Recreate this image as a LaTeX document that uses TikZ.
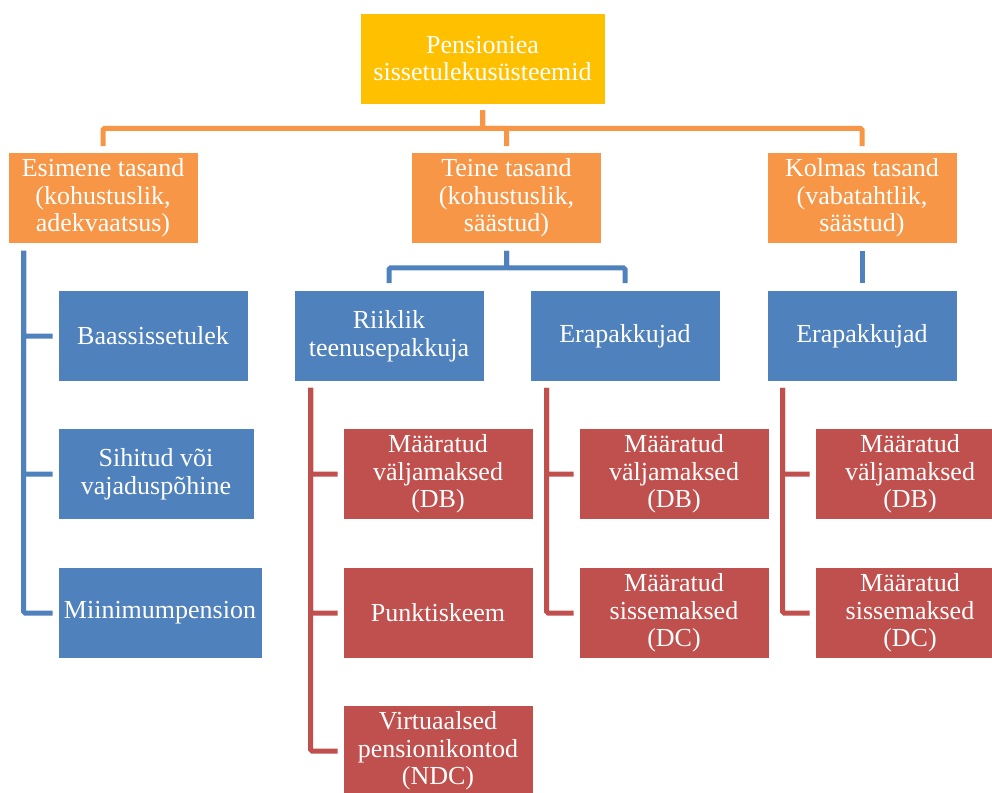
\documentclass[tikz,border=0pt]{standalone}
\usepackage{fontspec}
\setmainfont{Liberation Serif}
\definecolor{gold}{HTML}{FFC000}
\definecolor{orng}{HTML}{F79646}
\definecolor{blu}{HTML}{4F81BD}
\definecolor{rd}{HTML}{C0504D}
\begin{document}
\begin{tikzpicture}[x=1pt, y=-1pt,
  box/.style={draw=white, line width=0.6pt, text=white, align=center, inner sep=0pt,
    minimum width=190pt, minimum height=91pt, font=\fontsize{26}{27.5}\selectfont},
  topbox/.style={box, fill=gold, minimum width=245pt},
  tierbox/.style={box, fill=orng},
  bluebox/.style={box, fill=blu},
  redbox/.style={box, fill=rd},
  link/.style={line width=5pt, rounded corners=1.5pt},
  orlink/.style={link, draw=orng},
  bllink/.style={link, draw=blu},
  rdlink/.style={link, draw=rd}]
\path[use as bounding box] (0,0) rectangle (992,792);
\node[topbox] (pid0) at (482.5,58.5){Pensioniea\\sissetulekusüsteemid};
\node[tierbox] (pid1) at (103,198){Esimene tasand\\(kohustuslik,\\adekvaatsus)};
\node[tierbox] (pid2) at (506.5,198){Teine tasand\\(kohustuslik,\\säästud)};
\node[tierbox] (pid3) at (862,198){Kolmas tasand\\(vabatahtlik,\\säästud)};
\draw[orlink] ([yshift=-6pt]pid0.south) -- ++(0pt,-18pt) -| ([yshift=6pt]pid1.north);
\draw[orlink] ([yshift=-6pt]pid0.south) -- ++(0pt,-18pt) -| ([yshift=6pt]pid2.north);
\draw[orlink] ([yshift=-6pt]pid0.south) -- ++(0pt,-18pt) -| ([yshift=6pt]pid3.north);

\node[bluebox] (pid4) at (153,336){Baassissetulek};
\node[bluebox, minimum width=196pt] (pid5) at (156,474){Sihitud või\\vajaduspõhine};
\node[bluebox, minimum width=204pt] (pid6) at (160,613){Miinimumpension};
\draw[bllink] ([xshift=16pt,yshift=-7pt]pid1.south west) |- ([xshift=-5pt]pid4.west);
\draw[bllink] ([xshift=16pt,yshift=-7pt]pid1.south west) |- ([xshift=-5pt]pid5.west);
\draw[bllink] ([xshift=16pt,yshift=-7pt]pid1.south west) |- ([xshift=-5pt]pid6.west);

\node[bluebox] (pid7) at (389,336){Riiklik\\teenusepakkuja};
\node[bluebox] (pid8) at (625,336){Erapakkujad};
\draw[bllink] ([yshift=-7pt]pid2.south) -- ++(0pt,-17pt) -| ([yshift=7pt]pid7.north);
\draw[bllink] ([yshift=-7pt]pid2.south) -- ++(0pt,-17pt) -| ([yshift=7pt]pid8.north);

\node[bluebox] (pid9) at (862,336){Erapakkujad};
\draw[bllink] ([yshift=-7pt]pid3.south) -- ([yshift=7pt]pid9.north);

\node[redbox] (pid10) at (438,474){Määratud\\väljamaksed\\(DB)};
\node[redbox] (pid11) at (438,613){Punktiskeem};
\node[redbox] (pid12) at (438,751){Virtuaalsed\\pensionikontod\\(NDC)};
\draw[rdlink] ([xshift=17pt,yshift=-6pt]pid7.south west) |- ([xshift=-5pt]pid10.west);
\draw[rdlink] ([xshift=17pt,yshift=-6pt]pid7.south west) |- ([xshift=-5pt]pid11.west);
\draw[rdlink] ([xshift=17pt,yshift=-6pt]pid7.south west) |- ([xshift=-5pt]pid12.west);

\node[redbox] (pid13) at (674,474){Määratud\\väljamaksed\\(DB)};
\node[redbox] (pid14) at (674,613){Määratud\\sissemaksed\\(DC)};
\draw[rdlink] ([xshift=17pt,yshift=-6pt]pid8.south west) |- ([xshift=-5pt]pid13.west);
\draw[rdlink] ([xshift=17pt,yshift=-6pt]pid8.south west) |- ([xshift=-5pt]pid14.west);

\node[redbox] (pid15) at (910,474){Määratud\\väljamaksed\\(DB)};
\node[redbox] (pid16) at (910,613){Määratud\\sissemaksed\\(DC)};
\draw[rdlink] ([xshift=16pt,yshift=-6pt]pid9.south west) |- ([xshift=-5pt]pid15.west);
\draw[rdlink] ([xshift=16pt,yshift=-6pt]pid9.south west) |- ([xshift=-5pt]pid16.west);

\end{tikzpicture}
\end{document}
